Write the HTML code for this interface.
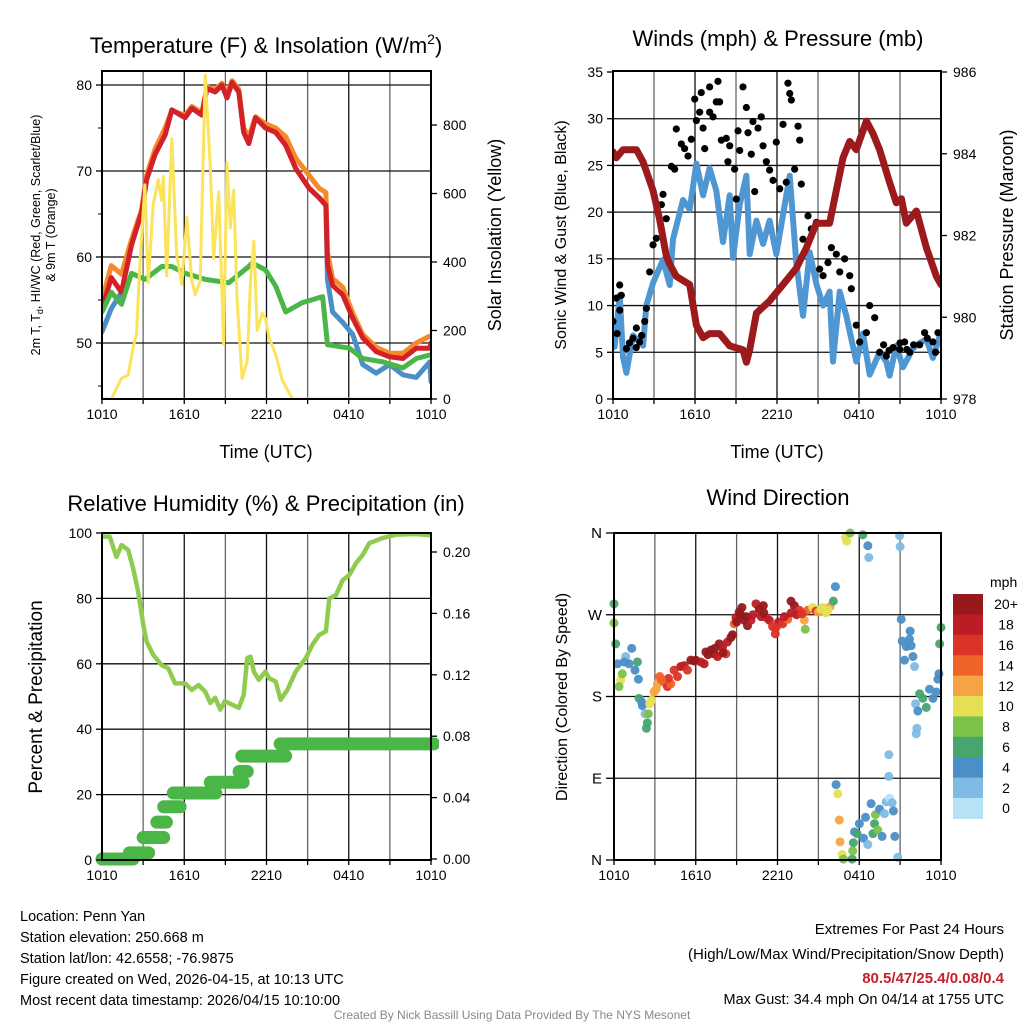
<!DOCTYPE html>
<html><head><meta charset="utf-8"><style>
body{margin:0;background:#fff;width:1024px;height:1024px;overflow:hidden}
svg{font-family:"Liberation Sans",Arial,sans-serif}
</style></head><body>
<svg id="s" width="1024" height="1024" viewBox="0 0 1024 1024" xmlns="http://www.w3.org/2000/svg">
<g id="texts">
<text x="266" y="53" font-size="22" text-anchor="middle">Temperature (F) &amp; Insolation (W/m<tspan font-size="14" dy="-9">2</tspan><tspan dy="9">)</tspan></text>
<text x="778" y="46" font-size="22" text-anchor="middle">Winds (mph) &amp; Pressure (mb)</text>
<text x="266" y="511" font-size="22" text-anchor="middle">Relative Humidity (%) &amp; Precipitation (in)</text>
<text x="778" y="505" font-size="22" text-anchor="middle">Wind Direction</text>
<text x="266" y="458" font-size="18" text-anchor="middle">Time (UTC)</text>
<text x="777" y="458" font-size="18" text-anchor="middle">Time (UTC)</text>
<text transform="translate(40,235) rotate(-90)" font-size="12.5" text-anchor="middle">2m T, T<tspan font-size="9" dy="3">d</tspan><tspan dy="-3">, HI/WC (Red, Green, Scarlet/Blue)</tspan></text>
<text transform="translate(55,235) rotate(-90)" font-size="12.5" text-anchor="middle">&amp; 9m T (Orange)</text>
<text transform="translate(501,235) rotate(-90)" font-size="18" text-anchor="middle">Solar Insolation (Yellow)</text>
<text transform="translate(566,235) rotate(-90)" font-size="16" text-anchor="middle">Sonic Wind &amp; Gust (Blue, Black)</text>
<text transform="translate(1013,235) rotate(-90)" font-size="18" text-anchor="middle">Station Pressure (Maroon)</text>
<text transform="translate(42,697) rotate(-90)" font-size="19" text-anchor="middle">Percent &amp; Precipitation</text>
<text transform="translate(567,697) rotate(-90)" font-size="16" text-anchor="middle">Direction (Colored By Speed)</text>
<text x="990" y="587" font-size="14" text-anchor="start">mph</text>
<g font-size="14.5">
<text x="20" y="921">Location: Penn Yan</text>
<text x="20" y="942">Station elevation: 250.668 m</text>
<text x="20" y="963">Station lat/lon: 42.6558; -76.9875</text>
<text x="20" y="984">Figure created on Wed, 2026-04-15, at 10:13 UTC</text>
<text x="20" y="1005">Most recent data timestamp: 2026/04/15 10:10:00</text>
</g>
<g font-size="15" text-anchor="end">
<text x="1004" y="934">Extremes For Past 24 Hours</text>
<text x="1004" y="959">(High/Low/Max Wind/Precipitation/Snow Depth)</text>
<text x="1004" y="983" fill="#c8202a" font-weight="bold">80.5/47/25.4/0.08/0.4</text>
<text x="1004" y="1004" font-size="14.5">Max Gust: 34.4 mph On 04/14 at 1755 UTC</text>
</g>
<text x="512" y="1019" font-size="12" fill="#888" text-anchor="middle">Created By Nick Bassill Using Data Provided By The NYS Mesonet</text>
</g>
</svg>
<script>
// ---- Temperature panel data ----
const tTime=[0,0.68,1.42,2.15,2.89,3.25,3.86,4.6,5.09,6.06,6.55,7.29,7.65,8.26,8.75,9.12,9.49,9.98,10.34,10.71,11.2,11.93,12.67,13.4,14.13,15.11,15.84,16.33,16.45,16.82,17.56,18.29,19.02,20,20.98,21.95,22.93,23.91,24];
const tRed=[54,57.6,55.9,61.4,65.2,69,71.9,74.2,77.1,76.2,77.3,76.5,79.6,79.2,80,78.5,80.3,79.2,74.5,73.2,76.2,75,74.5,73,70.3,68,66.9,66,59.1,56.7,55.6,52.9,50.6,49,48.4,48.2,49.4,49.4,50];
const tOrange=[55,59,58,62,65.5,69.5,72.5,75,77,76.5,77.5,76.8,79.8,79.5,80.2,79,80.5,79.5,75,74,76.3,75.5,75,74,71.5,69.5,68,67.5,60.5,57.5,56.5,53.5,51,49.5,48.8,48.8,50,50.8,50.8];
const tBlue=[51.3,54,55.9,61.4,65.2,69,71.9,74.2,77.1,76.2,77.3,76.5,79.6,79.2,80,78.5,80.3,79.2,74.5,73.2,76.2,75,74.5,73,70.3,68,66.9,66,57.4,53.6,52.4,51,47.5,46.5,47.5,46.3,46,47.8,45.5];
const dTime=[0,0.68,1.42,2.15,3.13,4.36,5.09,6.06,7.53,9.24,10.71,10.95,11.93,12.67,13.4,14.62,16.09,16.45,18.05,19.02,20.49,21.95,22.93,23.91,24];
const dGreen=[53.6,55.9,54.5,58.1,57.4,58.9,58.9,58.1,57.4,57,58.9,59.3,58.5,56.6,53.6,54.7,55.4,49.8,49.4,48.2,47.8,47.1,48.2,48.6,48.6];
const sTime=[0,0.68,1.42,1.91,2.27,2.52,2.76,3.13,3.37,3.74,4.11,4.35,4.47,4.72,5.09,5.45,5.82,6.19,6.55,6.8,7.16,7.53,7.9,8.14,8.51,8.87,9.12,9.36,9.61,9.85,10.22,10.59,10.83,11.08,11.32,11.69,11.93,12.18,12.67,13.15,13.89,24];
const sWatt=[0,0,60,70,150,190,390,625,340,570,640,580,650,360,760,420,335,530,345,305,345,945,680,410,605,160,690,500,610,295,60,110,345,460,200,250,235,180,130,55,0,0];
const tTicks=[50,60,70,80];
const sTicks=[0,200,400,600,800];
const xTickLabels=["1010","1610","2210","0410","1010"];
// ---- Wind panel data ----
const pTime=[0,0.24,0.73,1.71,2.2,2.93,3.41,3.9,4.15,4.63,5.61,6.1,6.59,7.07,7.8,8.54,9.51,9.76,10,10.49,11.46,12.44,13.41,14.15,14.88,15.85,16.34,16.83,17.32,17.8,18.54,19.02,19.51,20.24,20.73,21.1,21.46,22.2,22.93,23.66,24];
const pMb=[984.05,983.9,984.1,984.1,983.8,983.1,982.4,981.5,981.3,981.0,980.8,979.8,979.5,979.6,979.6,979.3,979.2,978.9,979.2,980.1,980.4,980.8,981.2,981.7,982.3,982.3,983.1,983.9,984.3,984.1,984.8,984.5,984.1,983.3,982.8,982.9,982.3,982.6,981.7,981.0,980.8];
const wTime=[0,0.12,0.49,0.73,0.98,1.46,2.2,2.44,2.93,3.66,4.15,4.39,5.12,5.61,6.1,6.59,7.07,7.56,8.05,8.54,8.78,9.27,9.76,10,10.49,10.98,11.46,11.95,12.44,12.93,13.41,13.9,14.39,14.88,15.37,15.85,16.1,16.59,17.07,17.8,18.29,18.78,19.51,20,20.24,20.73,21.22,21.95,22.44,22.93,23.41,24];
const wSpd=[7.9,5.6,11.1,4.5,2.8,6.8,5.7,10,12.4,14.9,12.2,17.1,21.3,20.3,25.2,21.8,24.7,22.3,16.8,21.8,15.1,20.8,23.9,15.5,19.1,16.6,19.1,15.5,19.7,23.9,14.6,8.9,15.7,12.3,10,11.5,4,11.5,8.9,4,7,2.6,5,4,2.5,5.7,3.4,5.4,6,6.4,4.4,7.2];
const gTime=[0,0.24,0.49,0.61,0.98,1.46,1.71,1.95,2.32,2.44,2.68,2.93,3.17,3.54,3.66,3.9,4.27,4.51,4.63,5,5.24,5.49,5.73,5.98,6.1,6.34,6.46,6.59,6.71,7.07,7.07,7.32,7.56,7.68,7.8,7.93,8.29,8.41,8.54,8.9,9.02,9.15,9.27,9.51,9.76,9.88,10.12,10.24,10.37,10.61,10.85,10.98,11.22,11.46,11.71,11.95,12.2,12.44,12.68,12.8,12.93,13.05,13.29,13.54,13.66,13.78,13.9,14.27,14.51,14.88,15.12,15.37,15.73,15.98,16.34,16.59,16.95,17.32,17.44,17.8,18.05,18.54,18.78,19.15,19.51,20,20.49,20.98,21.34,21.71,22.44,22.8,23.41,23.78,0.3,1.2,1.7,2.1,19.8,20.2,21,21.5,22,23,23.6,0.5];
const gSpd=[8.3,10.8,12.2,11.1,5.4,6.5,7.6,6.1,8.3,9.7,13.6,16.5,17.2,20.8,21.9,19.3,24.9,24.6,28.9,27.3,26.8,26,27.8,32.1,29.8,30.7,32.8,29,26.8,30.7,33.4,30.2,31.8,34,31.8,27.7,27.9,25.4,27.1,24.6,21.4,28.7,26.6,33.4,31.2,28.5,26.2,29.7,22.2,29,30.2,27.1,25.4,24.5,23.4,27.5,22.5,29.4,23.2,33.8,32.7,32,24.6,29.2,27.7,23,17.1,19.6,18.2,18.9,13.9,13.2,14.6,16.2,15.5,13.6,15,13.2,11.8,7.9,6.1,7.1,10,8.7,5,4.6,5.5,5.3,6.1,5,5.8,7.1,6.1,7.1,7,6,5.5,6.8,5.8,5.2,6,5.3,5.8,6.5,5,9.5];
// ---- Humidity panel data ----
const rhTime=[0,0.56,1.05,1.42,1.91,2.27,2.64,3.01,3.25,3.74,4.35,4.84,5.33,6.06,6.55,7.04,7.53,7.9,8.26,8.63,8.97,9.49,9.98,10.34,10.59,10.83,11.08,11.44,11.93,12.18,12.67,13.03,13.52,14.13,14.87,15.35,15.84,16.33,16.58,17.07,17.56,18.05,18.53,19.02,19.51,20.49,21.47,22.93,24];
const rhPct=[98.9,98.9,92.7,96.3,94.8,89.2,82,71.9,66.8,62.7,59.6,58.6,54,54,52,53.5,51.5,48,49.6,46,48.6,47.5,46.5,50.5,61.7,62.2,57.6,55.1,57.6,55.6,54.6,49,52,57.6,61.7,65.8,68.8,69.9,80,81,85.6,87.2,90.8,93.3,96.9,98.5,99.5,99.7,99.3];
const prStart=[0,2.0,3.0,4.0,4.5,5.2,7.9,10.0,10.2,13.0];
const prEnd=[2.27,3.4,4.5,4.7,5.7,8.3,10.3,10.6,13.4,24.2];
const prIn=[0,0.004,0.014,0.024,0.034,0.043,0.050,0.057,0.067,0.075];
const rhTicks=[0,20,40,60,80,100];
const prTicks=[0,0.04,0.08,0.12,0.16,0.20];
// ---- Wind direction data ----
const dirTime=[0,0,0.12,0.25,0.49,0.37,0.61,0.86,0.74,1.1,1.3,1.54,1.72,1.79,1.84,2.03,2.08,2.28,2.52,2.45,2.38,2.62,2.77,2.94,3.19,3.36,3.68,3.92,4.17,4.41,4.66,4.9,5.15,5.39,5.64,6,6.37,6.62,6.74,7.11,7.35,7.6,7.72,7.97,8.21,8.33,8.58,8.82,8.95,9.19,9.39,9.56,9.8,10.05,10.42,10.66,10.96,11.15,11.4,11.64,11.84,12.08,12.38,12.75,12.99,13.24,13.6,13.97,14.04,14.22,14.58,14.83,15.32,15.56,15.86,16.1,16.25,16.3,16.42,16.54,16.59,16.74,16.84,17.48,17.52,17.57,17.65,17.84,18.01,18.31,18.46,18.63,18.87,19,19.12,19.19,19.36,19.49,19.68,19.85,19.98,20.22,20.42,20.51,20.61,20.83,20.17,20.17,17.08,16.99,17.33,18.26,18.63,18.7,20.96,21,21.08,21.15,21.45,21.74,21.69,21.81,21.94,21.32,22.06,22.13,22.3,22.23,22.18,22.43,22.67,22.92,23.16,23.41,23.65,23.77,23.85,23.9,24,9.0,9.3,9.7,10.2,10.8,11.0,11.9,12.5,13.0,13.4,13.8,15,15.2,15.7,5.9,6.9,7.4,8.0,8.7,4.0,3.5,3.1];
const dirDeg=[282,261,238,216,198,191,205,224,218,216,233,209,218,199,178,174,170,161,161,151,145,172,176,185,194,202,196,191,194,209,202,213,214,209,220,220,218,216,229,231,227,224,238,234,227,240,245,260,267,273,278,264,258,264,282,276,280,267,264,257,249,262,260,265,285,280,275,264,254,275,278,274,278,272,279,285,301,83,73,44,20,6,1,1,10,19,31,29,40,24,47,17,62,29,40,50,33,56,26,51,64,68,63,54,26,3,92,116,351,355,360,358,346,333,357,345,265,241,235,252,243,236,224,220,213,172,164,145,139,183,178,168,188,178,185,199,205,238,256,262,270,268,270,268,272,256,268,272,270,271,273,276,275,219,226,233,228,248,200,198,188];
const dirSpd=[6,8,6,4,10,8,8,2,4,4,4,4,6,4,6,4,4,2,8,6,6,10,10,12,12,14,14,16,14,16,16,18,18,16,20,20,18,18,20,20,20,18,20,18,16,18,20,14,18,20,20,20,20,18,18,20,20,16,18,16,16,18,16,14,20,20,16,12,8,14,10,16,10,10,12,6,4,4,10,12,12,10,8,6,8,6,4,6,4,4,4,2,4,6,6,8,8,4,4,2,2,0,2,4,4,2,2,2,10,10,8,6,4,2,2,2,4,4,4,4,4,4,4,4,2,2,4,2,2,6,6,6,4,4,4,4,4,6,6,20,20,20,18,18,20,16,18,18,18,16,12,10,10,20,20,20,20,20,16,14,12];
const cbLabels=["0","2","4","6","8","10","12","14","16","18","20+"];
const cbColors=["#b5e2f6","#7fbbe4","#4a8fc6","#47a56e","#7bc24b","#e5e053","#f5a443","#ef6228","#dc3327","#bc1c24","#96191b"];
const dirTicks=[0,90,180,270,360];
const dirLabels=["N","E","S","W","N"];

const NS="http://www.w3.org/2000/svg";
const svg=document.getElementById('s');
function mk(tag,attrs,parent){const e=document.createElementNS(NS,tag);for(const k in attrs)e.setAttribute(k,attrs[k]);(parent||svg).appendChild(e);return e;}
function lin(d0,d1,r0,r1){return v=>r0+(v-d0)*(r1-r0)/(d1-d0);}
function pathD(xs,ys,fx,fy){return xs.map((t,i)=>(i?'L':'M')+fx(t).toFixed(1)+','+fy(ys[i]).toFixed(1)).join('');}

function panelFrame(L,T,R,B,gridYs,fx,name){
  const g=mk('g',{});
  
  
  for(let h=0;h<=24;h+=3){const x=fx(h);mk('line',{x1:x,y1:T,x2:x,y2:B,stroke:h%6?'#666':'#111','stroke-width':1.3},g);
    mk('line',{x1:x,y1:B,x2:x,y2:B+5,stroke:'#000','stroke-width':1.3},g);}
  gridYs.forEach(y=>mk('line',{x1:L,y1:y,x2:R,y2:y,stroke:'#111','stroke-width':1.3},g));
  xTickLabels.forEach((lab,i)=>{const t=mk('text',{x:fx(i*6),y:B+20,'font-size':14,'text-anchor':'middle'},g);t.textContent=lab;});
  return g;
}
function border(L,T,R,B,name){const r=mk('rect',{x:L,y:T,width:R-L,height:B-T,fill:'none',stroke:'#000','stroke-width':2});
  
  }
function leftTicks(vals,fy,L,fmt,g){vals.forEach(v=>{const y=fy(v);mk('line',{x1:L-6,y1:y,x2:L,y2:y,stroke:'#000','stroke-width':1.3},g);
  const t=mk('text',{x:L-10,y:y+5,'font-size':14,'text-anchor':'end'},g);t.textContent=fmt(v);});}
function rightTicks(vals,fy,R,fmt,g){vals.forEach(v=>{const y=fy(v);mk('line',{x1:R,y1:y,x2:R+6,y2:y,stroke:'#000','stroke-width':1.3},g);
  const t=mk('text',{x:R+12,y:y+5,'font-size':14,'text-anchor':'start'},g);t.textContent=fmt(v);});}

// ===== Panel 1 =====
(function(){
  const L=102,T=71,R=431,B=399;
  const fx=lin(0,24,L,R), fy=lin(80,50,85,343), fs=lin(0,800,399,125);
  panelFrame(L,T,R,B,tTicks.map(fy),fx,'temp-panel');
  const clip=mk('clipPath',{id:'c1'});mk('rect',{x:L,y:T,width:R-L,height:B-T},clip);
  const g=mk('g',{'clip-path':'url(#c1)'});
  const series=[[tTime,tBlue,'#4a90c8',5,'heat-index-wind-chill-line'],[tTime,tOrange,'#f58a2b',5,'9m-temperature-line'],[tTime,tRed,'#d42027',5,'2m-temperature-line'],[dTime,dGreen,'#4bb648',5,'dewpoint-line']];
  series.forEach(s=>{const p=mk('path',{d:pathD(s[0],s[1],fx,fy),fill:'none',stroke:s[2],'stroke-width':s[3],'stroke-linejoin':'round','stroke-linecap':'round'},g);
    
    });
  const ys=mk('path',{d:pathD(sTime,sWatt,fx,fs),fill:'none',stroke:'#fbe35b','stroke-width':3,'stroke-linejoin':'round'},g);
  
  
  const a=mk('g',{});
  
  
  leftTicks(tTicks,fy,L,v=>v,a);
  [45,55,65,75].forEach(v=>mk('line',{x1:L-4,y1:fy(v),x2:L,y2:fy(v),stroke:'#000'},a));
  rightTicks(sTicks,fs,R,v=>v,a);
  border(L,T,R,B,'temp-panel');
})();

// ===== Panel 2 =====
(function(){
  const L=613,T=71,R=941,B=399;
  const fx=lin(0,24,L,R), fy=lin(0,35,399,72), fp=lin(978,986,399,72);
  const wTicks=[0,5,10,15,20,25,30,35];
  panelFrame(L,T,R,B,[5,10,15,20,25,30].map(fy),fx,'wind-panel');
  const clip=mk('clipPath',{id:'c2'});mk('rect',{x:L,y:T,width:R-L,height:B-T},clip);
  const g=mk('g',{'clip-path':'url(#c2)'});
  const wl=mk('path',{d:pathD(wTime,wSpd,fx,fy),fill:'none',stroke:'#4f97d3','stroke-width':6,'stroke-linejoin':'round'},g);
  
  
  gTime.forEach((t,i)=>{const c=mk('circle',{cx:fx(t),cy:fy(gSpd[i]),r:3.6,fill:'#000'},g);
    
    });
  const pl=mk('path',{d:pathD(pTime,pMb,fx,fp),fill:'none',stroke:'#9c1a1c','stroke-width':7,'stroke-linejoin':'round','stroke-linecap':'round'},g);
  
  
  const a=mk('g',{});
  
  
  leftTicks(wTicks,fy,L,v=>v,a);
  rightTicks([978,980,982,984,986],fp,R,v=>v,a);
  border(L,T,R,B,'wind-panel');
})();

// ===== Panel 3 =====
(function(){
  const L=102,T=533,R=431,B=860;
  const fx=lin(0,24,L,R), fy=lin(0,100,860,533), fpr=lin(0,0.2,859,552);
  panelFrame(L,T,R,B,[20,40,60,80].map(fy),fx,'humidity-panel');
  const clip=mk('clipPath',{id:'c3'});mk('rect',{x:L-8,y:T,width:R-L+16,height:B-T+8},clip);
  const g=mk('g',{'clip-path':'url(#c3)'});
  prIn.forEach((v,i)=>{const l=mk('line',{x1:fx(prStart[i]),y1:fpr(v),x2:fx(prEnd[i]),y2:fpr(v),stroke:'#4bb648','stroke-width':13,'stroke-linecap':'round'},g);
    
    });
  const rl=mk('path',{d:pathD(rhTime,rhPct,fx,fy),fill:'none',stroke:'#8fcb4e','stroke-width':4.5,'stroke-linejoin':'round'},g);
  
  
  const a=mk('g',{});
  
  
  leftTicks(rhTicks,fy,L,v=>v,a);
  rightTicks(prTicks,fpr,R,v=>v.toFixed(2),a);
  border(L,T,R,B,'humidity-panel');
})();

// ===== Panel 4 =====
(function(){
  const L=614,T=533,R=941,B=860;
  const fx=lin(0,24,L,R), fy=lin(0,360,860,533);
  panelFrame(L,T,R,B,dirTicks.map(fy),fx,'direction-panel');
  const g=mk('g',{});
  
  
  dirTime.forEach((t,i)=>{const bin=Math.min(10,Math.max(0,Math.round(dirSpd[i]/2)));
    const c=mk('circle',{cx:fx(t),cy:fy(dirDeg[i]),r:4.5,fill:cbColors[bin],'fill-opacity':0.95},g);
    
    });
  const a=mk('g',{});
  
  
  dirTicks.forEach((v,i)=>{const y=fy(v);mk('line',{x1:L-8,y1:y,x2:L,y2:y,stroke:'#000','stroke-width':1.3},a);
    const t=mk('text',{x:L-12,y:y+5,'font-size':15,'text-anchor':'end'},a);t.textContent=dirLabels[i];});
  border(L,T,R,B,'direction-panel');
  const cb=mk('g',{});
  
  
  const top=594,h=20.4;
  for(let i=0;i<11;i++){const k=10-i;
    mk('rect',{x:953,y:top+i*h,width:30,height:h+0.5,fill:cbColors[k]},cb);
    const t=mk('text',{x:1006,y:top+i*h+h/2+5,'font-size':14,'text-anchor':'middle'},cb);t.textContent=cbLabels[k];}
})();
</script>
</body></html>
